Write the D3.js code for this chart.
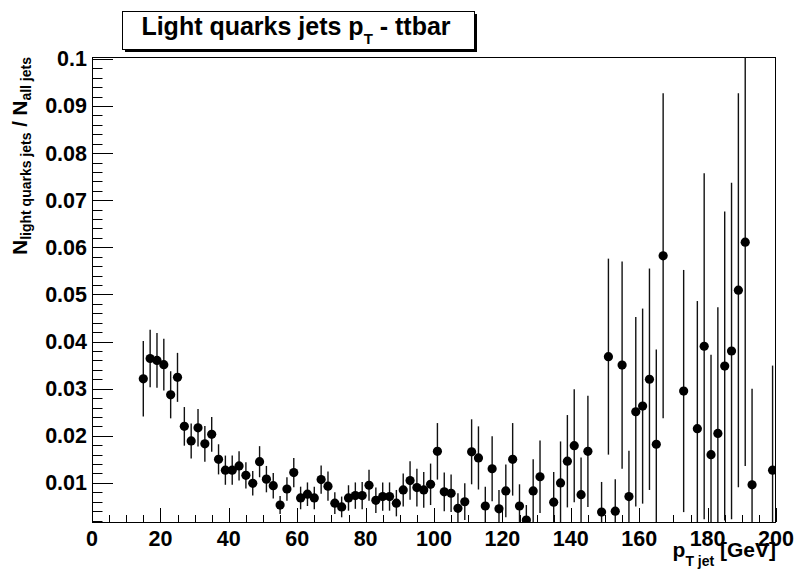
<!DOCTYPE html>
<html>
<head>
<meta charset="utf-8">
<script src="https://cdn.jsdelivr.net/npm/d3@7"></script>
<style>
  html, body { margin: 0; padding: 0; background: #fff; }
  svg { display: block; }
  text { font-family: "Liberation Sans", Arial, sans-serif; font-weight: bold; fill: #000; }
</style>
</head>
<body>
<svg id="chart" width="798" height="577"></svg>
<script>
// ---- data ----
const binCenters = [15,17,19,21,23,25,27,29,31,33,35,37,39,41,43,45,47,49,51,53,55,57,59,61,63,65,67,69,71,73,75,77,79,81,83,85,87,89,91,93,95,97,99,101,103,105,107,109,111,113,115,117,119,121,123,125,127,129,131,135,137,139,141,143,145,149,151,153,155,157,159,161,163,165,167,173,177,179,181,183,185,187,189,191,193,199];
const ratioValues = [0.0321,0.0364,0.0360,0.0351,0.0287,0.0324,0.0220,0.0189,0.0217,0.0183,0.0203,0.0150,0.0127,0.0127,0.0136,0.0116,0.0099,0.0145,0.0108,0.0094,0.0053,0.0087,0.0122,0.0068,0.0076,0.0068,0.0107,0.0093,0.0057,0.0049,0.0068,0.0073,0.0073,0.0095,0.0063,0.0071,0.0071,0.0057,0.0085,0.0105,0.0090,0.0085,0.0097,0.0167,0.0081,0.0078,0.0046,0.0060,0.0166,0.0153,0.0051,0.0130,0.0045,0.0083,0.0150,0.0051,0.0021,0.0083,0.0113,0.0059,0.0100,0.0146,0.0179,0.0075,0.0167,0.0038,0.0368,0.0040,0.0350,0.0071,0.0251,0.0263,0.0320,0.0182,0.0582,0.0295,0.0215,0.0390,0.0160,0.0205,0.0348,0.0380,0.0509,0.0611,0.0096,0.0127];
const ratioErrors = [0.0080,0.0061,0.0058,0.0055,0.0050,0.0052,0.0041,0.0037,0.0040,0.0038,0.0037,0.0032,0.0031,0.0031,0.0031,0.0028,0.0026,0.0033,0.0028,0.0027,0.0019,0.0025,0.0031,0.0024,0.0025,0.0024,0.0030,0.0031,0.0023,0.0022,0.0027,0.0028,0.0029,0.0033,0.0027,0.0030,0.0030,0.0028,0.0035,0.0041,0.0040,0.0038,0.0044,0.0060,0.0041,0.0040,0.0032,0.0039,0.0069,0.0067,0.0041,0.0069,0.0040,0.0056,0.0077,0.0046,0.0032,0.0067,0.0077,0.0064,0.0088,0.0098,0.0120,0.0079,0.0118,0.0064,0.0208,0.0068,0.0220,0.0097,0.0201,0.0207,0.0235,0.0201,0.0345,0.0257,0.0271,0.0367,0.0212,0.0268,0.0328,0.0357,0.0418,0.0475,0.0204,0.0222];
const xTickLabels = ["0","20","40","60","80","100","120","140","160","180","200"];
const yTickLabels = ["0.01","0.02","0.03","0.04","0.05","0.06","0.07","0.08","0.09","0.1"];
const xDomain = [0, 200];
const yDomain = [0.0017, 0.1004];

// ---- layout ----
const svg = d3.select("#chart");
const L = 92, R = 776, T = 57, B = 522;
const x = d3.scaleLinear().domain(xDomain).range([L, R]);
const y = d3.scaleLinear().domain(yDomain).range([B, T]);

svg.append("defs").append("clipPath").attr("id", "frameClip")
  .append("rect").attr("x", L).attr("y", T).attr("width", R - L).attr("height", B - T);

// frame
svg.append("rect").attr("x", L + 0.5).attr("y", T + 0.5).attr("width", R - L - 1).attr("height", B - T)
  .attr("fill", "none").attr("stroke", "#000").attr("stroke-width", 1);

// x axis ticks
const xMinor = d3.range(0, 201, 5);
svg.append("g").selectAll("line").data(xMinor).join("line")
  .attr("x1", d => Math.round(x(d)) + 0.5).attr("x2", d => Math.round(x(d)) + 0.5)
  .attr("y1", B).attr("y2", d => B - (d % 20 === 0 ? 14 : 7))
  .attr("stroke", "#000").attr("stroke-width", 1);

// y axis ticks
const yMinor = d3.range(1, 51).map(i => +(i * 0.002).toFixed(3));
svg.append("g").selectAll("line").data(yMinor).join("line")
  .attr("y1", d => Math.round(y(d)) + 0.5).attr("y2", d => Math.round(y(d)) + 0.5)
  .attr("x1", L).attr("x2", d => L + (Math.round(d * 1000) % 10 === 0 ? 21 : 10.5))
  .attr("stroke", "#000").attr("stroke-width", 1);

// x tick labels
svg.append("g").selectAll("text").data(xTickLabels).join("text")
  .attr("x", d => x(+d)).attr("y", 546)
  .attr("text-anchor", "middle").attr("font-size", 21.5)
  .text(d => d);

// y tick labels
svg.append("g").selectAll("text").data(yTickLabels).join("text")
  .attr("x", 87).attr("y", d => y(+d) + 7.5)
  .attr("text-anchor", "end").attr("font-size", 21.5)
  .text(d => d);

// data
const pts = binCenters.map((c, i) => ({ x: c, v: ratioValues[i], e: ratioErrors[i] }));
const gData = svg.append("g").attr("clip-path", "url(#frameClip)");
gData.selectAll("line.err").data(pts).join("line").attr("class", "err")
  .attr("x1", d => x(d.x)).attr("x2", d => x(d.x))
  .attr("y1", d => y(d.v + d.e)).attr("y2", d => y(d.v - d.e))
  .attr("stroke", "#111").attr("stroke-width", 1.4);
gData.selectAll("circle").data(pts).join("circle")
  .attr("cx", d => x(d.x)).attr("cy", d => y(d.v)).attr("r", 4.6)
  .attr("fill", "#000");

// title box
svg.append("rect").attr("x", 125).attr("y", 14).attr("width", 352).attr("height", 38).attr("fill", "#000");
svg.append("rect").attr("x", 122.5).attr("y", 11.5).attr("width", 352).attr("height", 38)
  .attr("fill", "#fff").attr("stroke", "#000").attr("stroke-width", 1);
const title = svg.append("text").attr("x", 296).attr("y", 35).attr("text-anchor", "middle").attr("font-size", 25);
title.append("tspan").text("Light quarks jets p");
title.append("tspan").attr("font-size", 15).attr("dy", 9).text("T");
title.append("tspan").attr("dy", -9).text(" - ttbar");

// x axis title
const xt = svg.append("text").attr("x", 776).attr("y", 557).attr("text-anchor", "end").attr("font-size", 21);
xt.append("tspan").text("p");
xt.append("tspan").attr("font-size", 14).attr("dy", 9).text("T jet");
xt.append("tspan").attr("dy", -9).text(" [GeV]");

// y axis title
const yt = svg.append("text").attr("transform", "translate(27,57) rotate(-90)").attr("text-anchor", "end").attr("font-size", 20.5);
yt.append("tspan").text("N");
yt.append("tspan").attr("font-size", 14).attr("dy", 4).text("light quarks jets");
yt.append("tspan").attr("dy", -4).text(" / N");
yt.append("tspan").attr("font-size", 14).attr("dy", 4).text("all jets");
</script>
</body>
</html>
